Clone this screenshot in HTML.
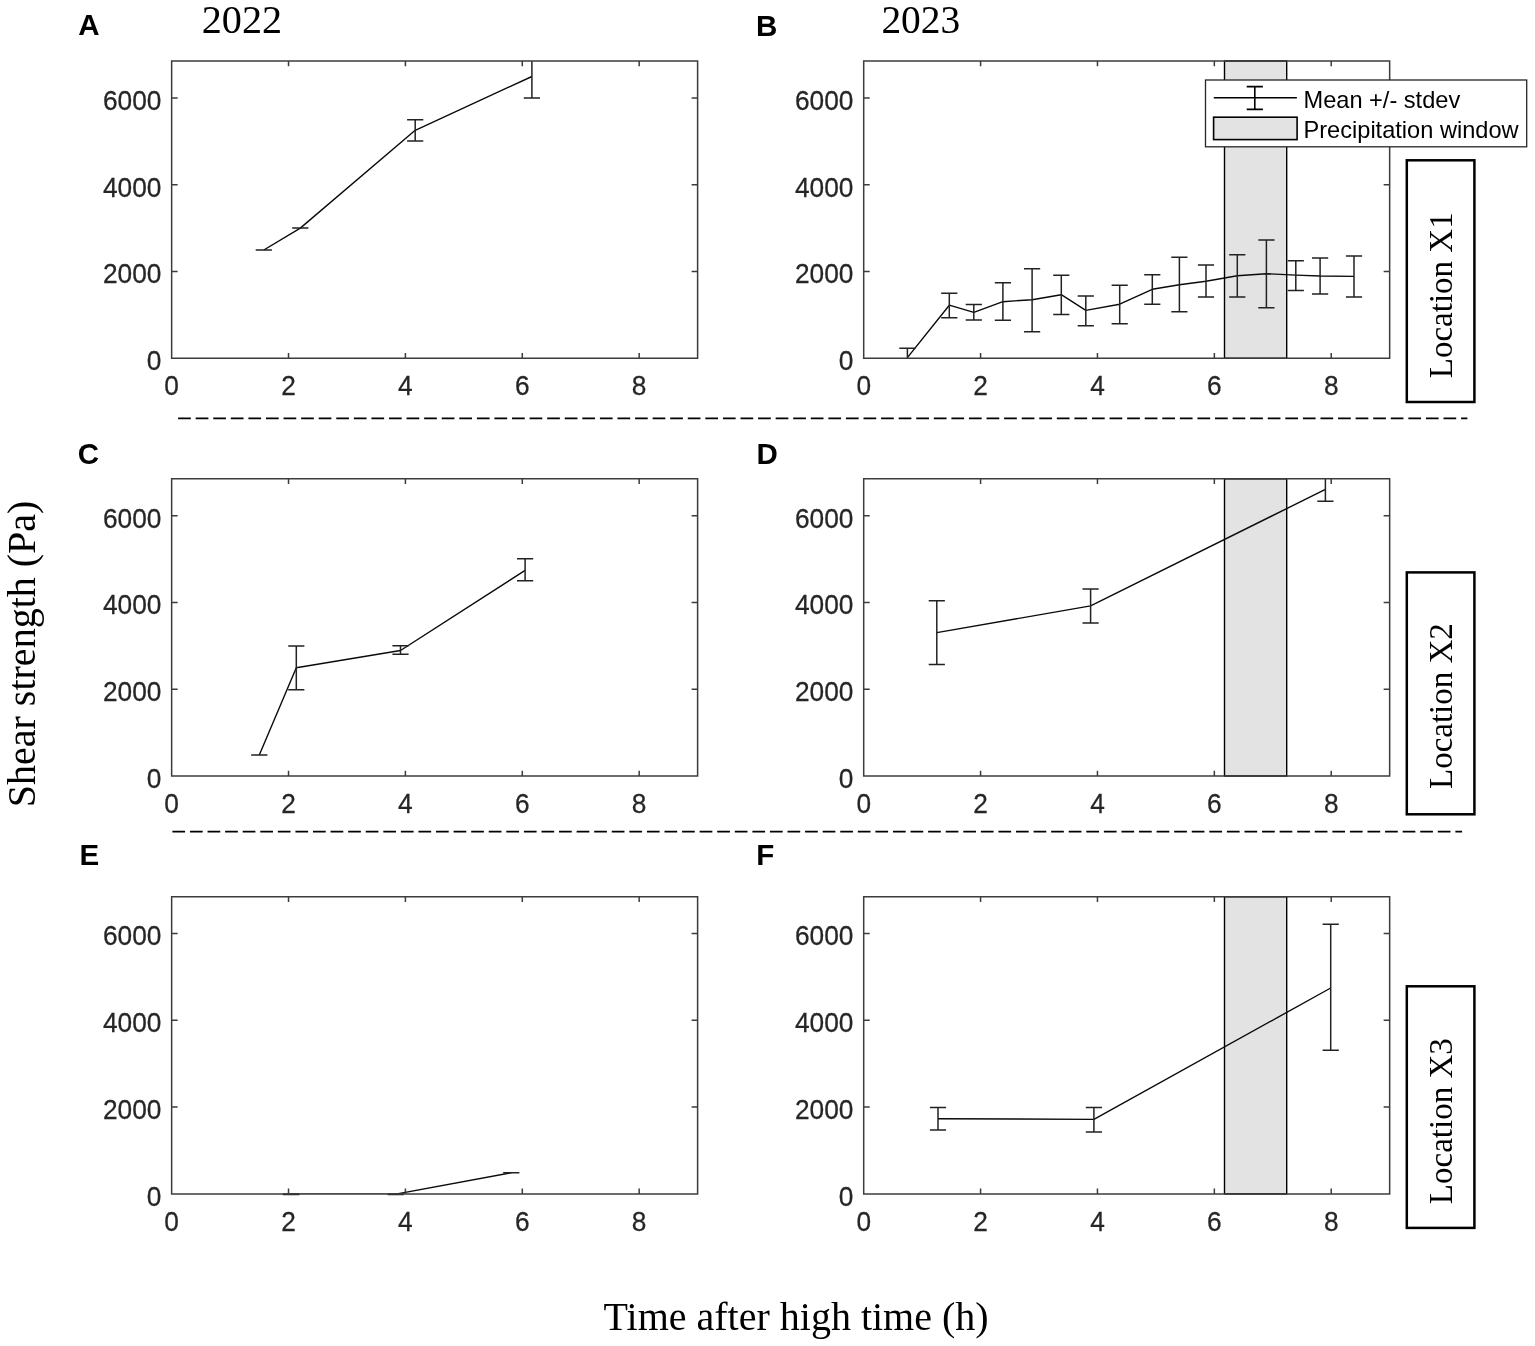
<!DOCTYPE html><html><head><meta charset="utf-8"><style>html,body{margin:0;padding:0;background:#fff;overflow:hidden}svg{display:block}</style></head><body>
<svg width="1535" height="1346" viewBox="0 0 1535 1346">
<rect width="1535" height="1346" fill="#fff"/>
<clipPath id="c00"><rect x="171.65" y="60.95" width="525.96" height="297.35"/></clipPath>
<g clip-path="url(#c00)" fill="none" stroke-linecap="butt">
<path d="M263.8 250 L300.3 228.1 L415.2 130.3 L531.9 76.5" stroke="#0a0a0a" stroke-width="1.4" stroke-linejoin="round"/>
<path d="M255.7 250 H271.9 M292.2 228.1 H308.4 M415.2 119.8 V141 M407.1 119.8 H423.3 M407.1 141 H423.3 M531.9 55.95 V97.9 M523.8 55.95 H540 M523.8 97.9 H540" stroke="#222" stroke-width="1.5"/>
</g>
<path d="M171.65 60.95 H697.61 V358.3 H171.65 Z M171.65 358.3 h6.0 M697.61 358.3 h-6.0 M171.65 271.52 h6.0 M697.61 271.52 h-6.0 M171.65 184.74 h6.0 M697.61 184.74 h-6.0 M171.65 97.96 h6.0 M697.61 97.96 h-6.0 M171.65 358.3 v-5.3 M171.65 60.95 v5.3 M288.53 358.3 v-5.3 M288.53 60.95 v5.3 M405.41 358.3 v-5.3 M405.41 60.95 v5.3 M522.29 358.3 v-5.3 M522.29 60.95 v5.3 M639.17 358.3 v-5.3 M639.17 60.95 v5.3" fill="none" stroke="#3c3c3c" stroke-width="1.5" stroke-linecap="butt"/>
<g font-family="Liberation Sans, Arial, sans-serif" font-size="26.3" fill="#262626" stroke="#262626" stroke-width="0.25"><text transform="translate(161.45 370.15) scale(1 1.075)" text-anchor="end">0</text><text transform="translate(161.45 283.37) scale(1 1.075)" text-anchor="end">2000</text><text transform="translate(161.45 196.59) scale(1 1.075)" text-anchor="end">4000</text><text transform="translate(161.45 109.81) scale(1 1.075)" text-anchor="end">6000</text><text transform="translate(171.65 395.3) scale(1 1.075)" text-anchor="middle">0</text><text transform="translate(288.53 395.3) scale(1 1.075)" text-anchor="middle">2</text><text transform="translate(405.41 395.3) scale(1 1.075)" text-anchor="middle">4</text><text transform="translate(522.29 395.3) scale(1 1.075)" text-anchor="middle">6</text><text transform="translate(639.17 395.3) scale(1 1.075)" text-anchor="middle">8</text></g>
<clipPath id="c01"><rect x="863.7" y="60.95" width="525.96" height="297.35"/></clipPath>
<rect x="1224.5" y="60.95" width="62.2" height="297.35" fill="#e3e3e3" stroke="#000" stroke-width="1.4"/>
<g clip-path="url(#c01)" fill="none" stroke-linecap="butt">
<path d="M907.4 357.6 L949.3 305.2 L973.8 312.4 L1002.9 301.7 L1032.1 299.7 L1061.3 294.7 L1085.8 310.4 L1119.7 304.2 L1152.3 289.3 L1179.4 284.7 L1206 281.3 L1237.3 275.7 L1266.4 273.7 L1295.8 275.1 L1320.1 276 L1354 276.4" stroke="#0a0a0a" stroke-width="1.4" stroke-linejoin="round"/>
<path d="M907.4 348.3 V363.3 M899.3 348.3 H915.5 M899.3 363.3 H915.5 M949.3 293.2 V317.7 M941.2 293.2 H957.4 M941.2 317.7 H957.4 M973.8 304.6 V319.9 M965.7 304.6 H981.9 M965.7 319.9 H981.9 M1002.9 282.8 V320.3 M994.8 282.8 H1011 M994.8 320.3 H1011 M1032.1 268.7 V331.7 M1024 268.7 H1040.2 M1024 331.7 H1040.2 M1061.3 275.2 V314.5 M1053.2 275.2 H1069.4 M1053.2 314.5 H1069.4 M1085.8 296 V325.7 M1077.7 296 H1093.9 M1077.7 325.7 H1093.9 M1119.7 285.2 V323.8 M1111.6 285.2 H1127.8 M1111.6 323.8 H1127.8 M1152.3 274.8 V304.2 M1144.2 274.8 H1160.4 M1144.2 304.2 H1160.4 M1179.4 257.2 V311.7 M1171.3 257.2 H1187.5 M1171.3 311.7 H1187.5 M1206 265.1 V297 M1197.9 265.1 H1214.1 M1197.9 297 H1214.1 M1237.3 254.8 V297.1 M1229.2 254.8 H1245.4 M1229.2 297.1 H1245.4 M1266.4 239.9 V307.7 M1258.3 239.9 H1274.5 M1258.3 307.7 H1274.5 M1295.8 260.7 V290.6 M1287.7 260.7 H1303.9 M1287.7 290.6 H1303.9 M1320.1 258 V293.9 M1312 258 H1328.2 M1312 293.9 H1328.2 M1354 256.1 V297.1 M1345.9 256.1 H1362.1 M1345.9 297.1 H1362.1" stroke="#222" stroke-width="1.5"/>
</g>
<path d="M863.7 60.95 H1389.66 V358.3 H863.7 Z M863.7 358.3 h6.0 M1389.66 358.3 h-6.0 M863.7 271.52 h6.0 M1389.66 271.52 h-6.0 M863.7 184.74 h6.0 M1389.66 184.74 h-6.0 M863.7 97.96 h6.0 M1389.66 97.96 h-6.0 M863.7 358.3 v-5.3 M863.7 60.95 v5.3 M980.58 358.3 v-5.3 M980.58 60.95 v5.3 M1097.46 358.3 v-5.3 M1097.46 60.95 v5.3 M1214.34 358.3 v-5.3 M1214.34 60.95 v5.3 M1331.22 358.3 v-5.3 M1331.22 60.95 v5.3" fill="none" stroke="#3c3c3c" stroke-width="1.5" stroke-linecap="butt"/>
<g font-family="Liberation Sans, Arial, sans-serif" font-size="26.3" fill="#262626" stroke="#262626" stroke-width="0.25"><text transform="translate(853.5 370.15) scale(1 1.075)" text-anchor="end">0</text><text transform="translate(853.5 283.37) scale(1 1.075)" text-anchor="end">2000</text><text transform="translate(853.5 196.59) scale(1 1.075)" text-anchor="end">4000</text><text transform="translate(853.5 109.81) scale(1 1.075)" text-anchor="end">6000</text><text transform="translate(863.7 395.3) scale(1 1.075)" text-anchor="middle">0</text><text transform="translate(980.58 395.3) scale(1 1.075)" text-anchor="middle">2</text><text transform="translate(1097.46 395.3) scale(1 1.075)" text-anchor="middle">4</text><text transform="translate(1214.34 395.3) scale(1 1.075)" text-anchor="middle">6</text><text transform="translate(1331.22 395.3) scale(1 1.075)" text-anchor="middle">8</text></g>
<clipPath id="c10"><rect x="171.65" y="478.8" width="525.96" height="297.2"/></clipPath>
<g clip-path="url(#c10)" fill="none" stroke-linecap="butt">
<path d="M259.3 754.9 L296.3 667.7 L400.5 650.5 L525.1 570.4" stroke="#0a0a0a" stroke-width="1.4" stroke-linejoin="round"/>
<path d="M251.2 754.9 H267.4 M296.3 646 V689.7 M288.2 646 H304.4 M288.2 689.7 H304.4 M400.5 645.8 V654.3 M392.4 645.8 H408.6 M392.4 654.3 H408.6 M525.1 558.8 V580.65 M517 558.8 H533.2 M517 580.65 H533.2" stroke="#222" stroke-width="1.5"/>
</g>
<path d="M171.65 478.8 H697.61 V776 H171.65 Z M171.65 776 h6.0 M697.61 776 h-6.0 M171.65 689.22 h6.0 M697.61 689.22 h-6.0 M171.65 602.44 h6.0 M697.61 602.44 h-6.0 M171.65 515.66 h6.0 M697.61 515.66 h-6.0 M171.65 776 v-5.3 M171.65 478.8 v5.3 M288.53 776 v-5.3 M288.53 478.8 v5.3 M405.41 776 v-5.3 M405.41 478.8 v5.3 M522.29 776 v-5.3 M522.29 478.8 v5.3 M639.17 776 v-5.3 M639.17 478.8 v5.3" fill="none" stroke="#3c3c3c" stroke-width="1.5" stroke-linecap="butt"/>
<g font-family="Liberation Sans, Arial, sans-serif" font-size="26.3" fill="#262626" stroke="#262626" stroke-width="0.25"><text transform="translate(161.45 787.85) scale(1 1.075)" text-anchor="end">0</text><text transform="translate(161.45 701.07) scale(1 1.075)" text-anchor="end">2000</text><text transform="translate(161.45 614.29) scale(1 1.075)" text-anchor="end">4000</text><text transform="translate(161.45 527.51) scale(1 1.075)" text-anchor="end">6000</text><text transform="translate(171.65 813) scale(1 1.075)" text-anchor="middle">0</text><text transform="translate(288.53 813) scale(1 1.075)" text-anchor="middle">2</text><text transform="translate(405.41 813) scale(1 1.075)" text-anchor="middle">4</text><text transform="translate(522.29 813) scale(1 1.075)" text-anchor="middle">6</text><text transform="translate(639.17 813) scale(1 1.075)" text-anchor="middle">8</text></g>
<clipPath id="c11"><rect x="863.7" y="478.8" width="525.96" height="297.2"/></clipPath>
<rect x="1224.5" y="478.8" width="62.2" height="297.2" fill="#e3e3e3" stroke="#000" stroke-width="1.4"/>
<g clip-path="url(#c11)" fill="none" stroke-linecap="butt">
<path d="M936.8 632.6 L1090.6 605.9 L1325.4 489.4" stroke="#0a0a0a" stroke-width="1.4" stroke-linejoin="round"/>
<path d="M936.8 600.8 V664.6 M928.7 600.8 H944.9 M928.7 664.6 H944.9 M1090.6 588.9 V623 M1082.5 588.9 H1098.7 M1082.5 623 H1098.7 M1325.4 473.8 V501.2 M1317.3 473.8 H1333.5 M1317.3 501.2 H1333.5" stroke="#222" stroke-width="1.5"/>
</g>
<path d="M863.7 478.8 H1389.66 V776 H863.7 Z M863.7 776 h6.0 M1389.66 776 h-6.0 M863.7 689.22 h6.0 M1389.66 689.22 h-6.0 M863.7 602.44 h6.0 M1389.66 602.44 h-6.0 M863.7 515.66 h6.0 M1389.66 515.66 h-6.0 M863.7 776 v-5.3 M863.7 478.8 v5.3 M980.58 776 v-5.3 M980.58 478.8 v5.3 M1097.46 776 v-5.3 M1097.46 478.8 v5.3 M1214.34 776 v-5.3 M1214.34 478.8 v5.3 M1331.22 776 v-5.3 M1331.22 478.8 v5.3" fill="none" stroke="#3c3c3c" stroke-width="1.5" stroke-linecap="butt"/>
<g font-family="Liberation Sans, Arial, sans-serif" font-size="26.3" fill="#262626" stroke="#262626" stroke-width="0.25"><text transform="translate(853.5 787.85) scale(1 1.075)" text-anchor="end">0</text><text transform="translate(853.5 701.07) scale(1 1.075)" text-anchor="end">2000</text><text transform="translate(853.5 614.29) scale(1 1.075)" text-anchor="end">4000</text><text transform="translate(853.5 527.51) scale(1 1.075)" text-anchor="end">6000</text><text transform="translate(863.7 813) scale(1 1.075)" text-anchor="middle">0</text><text transform="translate(980.58 813) scale(1 1.075)" text-anchor="middle">2</text><text transform="translate(1097.46 813) scale(1 1.075)" text-anchor="middle">4</text><text transform="translate(1214.34 813) scale(1 1.075)" text-anchor="middle">6</text><text transform="translate(1331.22 813) scale(1 1.075)" text-anchor="middle">8</text></g>
<clipPath id="c20"><rect x="171.65" y="896.7" width="525.96" height="297.2"/></clipPath>
<g clip-path="url(#c20)" fill="none" stroke-linecap="butt">
<path d="M291.05 1194.1 L395.75 1194.1 L511.3 1172.7" stroke="#0a0a0a" stroke-width="1.4" stroke-linejoin="round"/>
<path d="M282.95 1194.1 H299.15 M387.65 1194.1 H403.85 M503.2 1172.7 H519.4" stroke="#222" stroke-width="1.5"/>
</g>
<path d="M282.7 1194.5 H299.4 M387.7 1194.5 H403.8" stroke="#222" stroke-width="1.5" fill="none"/>
<path d="M171.65 896.7 H697.61 V1193.9 H171.65 Z M171.65 1193.9 h6.0 M697.61 1193.9 h-6.0 M171.65 1107.12 h6.0 M697.61 1107.12 h-6.0 M171.65 1020.34 h6.0 M697.61 1020.34 h-6.0 M171.65 933.56 h6.0 M697.61 933.56 h-6.0 M171.65 1193.9 v-5.3 M171.65 896.7 v5.3 M288.53 1193.9 v-5.3 M288.53 896.7 v5.3 M405.41 1193.9 v-5.3 M405.41 896.7 v5.3 M522.29 1193.9 v-5.3 M522.29 896.7 v5.3 M639.17 1193.9 v-5.3 M639.17 896.7 v5.3" fill="none" stroke="#3c3c3c" stroke-width="1.5" stroke-linecap="butt"/>
<g font-family="Liberation Sans, Arial, sans-serif" font-size="26.3" fill="#262626" stroke="#262626" stroke-width="0.25"><text transform="translate(161.45 1205.75) scale(1 1.075)" text-anchor="end">0</text><text transform="translate(161.45 1118.97) scale(1 1.075)" text-anchor="end">2000</text><text transform="translate(161.45 1032.19) scale(1 1.075)" text-anchor="end">4000</text><text transform="translate(161.45 945.41) scale(1 1.075)" text-anchor="end">6000</text><text transform="translate(171.65 1230.9) scale(1 1.075)" text-anchor="middle">0</text><text transform="translate(288.53 1230.9) scale(1 1.075)" text-anchor="middle">2</text><text transform="translate(405.41 1230.9) scale(1 1.075)" text-anchor="middle">4</text><text transform="translate(522.29 1230.9) scale(1 1.075)" text-anchor="middle">6</text><text transform="translate(639.17 1230.9) scale(1 1.075)" text-anchor="middle">8</text></g>
<clipPath id="c21"><rect x="863.7" y="896.7" width="525.96" height="297.2"/></clipPath>
<rect x="1224.5" y="896.7" width="62.2" height="297.2" fill="#e3e3e3" stroke="#000" stroke-width="1.4"/>
<g clip-path="url(#c21)" fill="none" stroke-linecap="butt">
<path d="M938 1118.7 L1093.9 1119.4 L1330.7 988" stroke="#0a0a0a" stroke-width="1.4" stroke-linejoin="round"/>
<path d="M938 1107.5 V1130.1 M929.9 1107.5 H946.1 M929.9 1130.1 H946.1 M1093.9 1107.5 V1132.1 M1085.8 1107.5 H1102 M1085.8 1132.1 H1102 M1330.7 924.15 V1050.2 M1322.6 924.15 H1338.8 M1322.6 1050.2 H1338.8" stroke="#222" stroke-width="1.5"/>
</g>
<path d="M863.7 896.7 H1389.66 V1193.9 H863.7 Z M863.7 1193.9 h6.0 M1389.66 1193.9 h-6.0 M863.7 1107.12 h6.0 M1389.66 1107.12 h-6.0 M863.7 1020.34 h6.0 M1389.66 1020.34 h-6.0 M863.7 933.56 h6.0 M1389.66 933.56 h-6.0 M863.7 1193.9 v-5.3 M863.7 896.7 v5.3 M980.58 1193.9 v-5.3 M980.58 896.7 v5.3 M1097.46 1193.9 v-5.3 M1097.46 896.7 v5.3 M1214.34 1193.9 v-5.3 M1214.34 896.7 v5.3 M1331.22 1193.9 v-5.3 M1331.22 896.7 v5.3" fill="none" stroke="#3c3c3c" stroke-width="1.5" stroke-linecap="butt"/>
<g font-family="Liberation Sans, Arial, sans-serif" font-size="26.3" fill="#262626" stroke="#262626" stroke-width="0.25"><text transform="translate(853.5 1205.75) scale(1 1.075)" text-anchor="end">0</text><text transform="translate(853.5 1118.97) scale(1 1.075)" text-anchor="end">2000</text><text transform="translate(853.5 1032.19) scale(1 1.075)" text-anchor="end">4000</text><text transform="translate(853.5 945.41) scale(1 1.075)" text-anchor="end">6000</text><text transform="translate(863.7 1230.9) scale(1 1.075)" text-anchor="middle">0</text><text transform="translate(980.58 1230.9) scale(1 1.075)" text-anchor="middle">2</text><text transform="translate(1097.46 1230.9) scale(1 1.075)" text-anchor="middle">4</text><text transform="translate(1214.34 1230.9) scale(1 1.075)" text-anchor="middle">6</text><text transform="translate(1331.22 1230.9) scale(1 1.075)" text-anchor="middle">8</text></g>
<g font-family="Liberation Sans, Arial, sans-serif" font-weight="bold" font-size="29.5" fill="#000">
<text x="78.2" y="35.1">A</text>
<text x="756" y="36">B</text>
<text x="77.7" y="463.8">C</text>
<text x="756.5" y="463.8">D</text>
<text x="79.5" y="864.9">E</text>
<text x="756.3" y="864.9">F</text>
</g>
<g font-family="Liberation Serif, Times New Roman, serif" font-size="39.8" fill="#000">
<text transform="translate(201.7 33.4) scale(1.01 1.02)">2022</text><text transform="translate(881.4 33.3) scale(0.99 1.02)">2023</text>
</g>
<g stroke="#000" stroke-width="1.9" stroke-dasharray="12.7 4.875">
<path d="M178.1 418.4 H1467.4"/><path d="M172.4 831.6 H1462.1"/>
</g>
<rect x="1406.8" y="160.3" width="67.6" height="241.7" fill="#fff" stroke="#000" stroke-width="2.5"/>
<text transform="translate(1452.4 378.2) rotate(-90)" font-family="Liberation Serif, Times New Roman, serif" font-size="33" fill="#000">Location X1</text>
<rect x="1406.8" y="572.4" width="67.6" height="241.9" fill="#fff" stroke="#000" stroke-width="2.5"/>
<text transform="translate(1452.4 789) rotate(-90)" font-family="Liberation Serif, Times New Roman, serif" font-size="33" fill="#000">Location X2</text>
<rect x="1406.8" y="986.3" width="67.6" height="241.6" fill="#fff" stroke="#000" stroke-width="2.5"/>
<text transform="translate(1452.4 1204.15) rotate(-90)" font-family="Liberation Serif, Times New Roman, serif" font-size="33" fill="#000">Location X3</text>
<rect x="1205.5" y="80" width="321.2" height="66.8" fill="#fff" stroke="#262626" stroke-width="1.3"/>
<path d="M1213.8 97.7 H1296.9 M1254.8 86.6 V109.4 M1246.7 86.6 H1262.9 M1246.7 109.4 H1262.9" stroke="#000" stroke-width="1.6" fill="none"/>
<rect x="1213.6" y="117.2" width="83.5" height="22.4" fill="#e3e3e3" stroke="#000" stroke-width="1.6"/>
<g font-family="Liberation Sans, Arial, sans-serif" font-size="23.6" fill="#000"><text x="1303.5" y="108.0">Mean +/- stdev</text><text x="1303.5" y="137.9">Precipitation window</text></g>
<text transform="translate(35.2 807.2) rotate(-90)" font-family="Liberation Serif, Times New Roman, serif" font-size="40" fill="#000">Shear strength (Pa)</text>
<text x="603.5" y="1329.9" font-family="Liberation Serif, Times New Roman, serif" font-size="40" fill="#000">Time after high time (h)</text>
</svg></body></html>
